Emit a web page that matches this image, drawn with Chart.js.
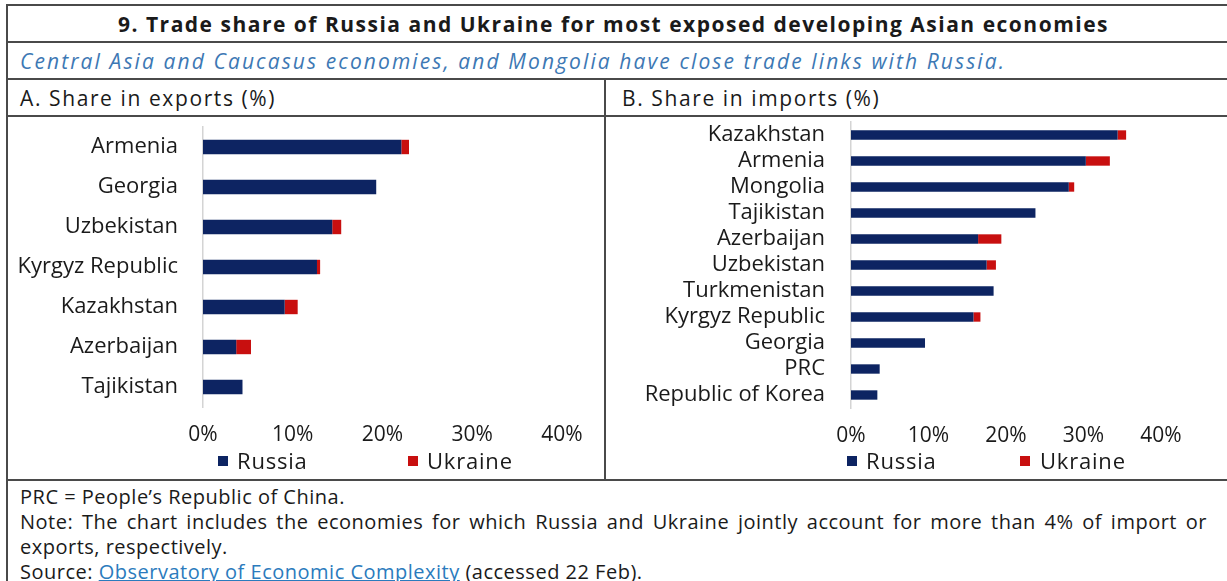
<!DOCTYPE html>
<html>
<head>
<meta charset="utf-8">
<script src="https://cdn.jsdelivr.net/npm/chart.js@4.4.1/dist/chart.umd.min.js"></script>
<style>
  html, body { margin: 0; padding: 0; background: #fff; }
  #wrap { position: relative; width: 1227px; height: 581px; overflow: hidden; background: #fff;
          font-family: "Open Sans", "Lato", sans-serif; color: #1a1a1a; }
  .hl { position: absolute; height: 2px; background: #4a4a4a; }
  .vl { position: absolute; width: 2px; background: #4a4a4a; }
  .txt { position: absolute; white-space: nowrap; }
  .cv { position: absolute; }
  .leg { position: absolute; white-space: nowrap; font-size: 22px; line-height: 26px; }
  .leg span { position: absolute; top: 0; letter-spacing: 0.8px; }
  .leg i { position: absolute; width: 10px; height: 10px; top: 9px; }
  a { color: #2b7bbd; text-decoration: underline; }
  #foot2 { width: 1187px; text-align: justify; text-align-last: justify; white-space: normal; }
</style>
</head>
<body>
<div id="wrap">
  <div class="hl" style="left:6px; width:1230px; top:4px;"></div>
  <div class="hl" style="left:6px; width:1230px; top:41px;"></div>
  <div class="hl" style="left:6px; width:1230px; top:78px;"></div>
  <div class="hl" style="left:6px; width:1230px; top:115px;"></div>
  <div class="hl" style="left:6px; width:1230px; top:479px;"></div>
  <div class="vl" style="left:6px; top:4px; height:590px;"></div>
  <div class="vl" style="left:604px; top:78px; height:402px;"></div>

  <div class="txt" id="title" style="left:0; width:1227px; text-align:center; top:9px; font-size:21px; letter-spacing:1.5px; font-weight:700; line-height:30px;"></div>
  <div class="txt" id="subtitle" style="left:20px; top:46px; font-size:21px; letter-spacing:2.1px; font-style:italic; color:#3d78b4; line-height:30px;"></div>
  <div class="txt" id="panelA" style="left:20px; top:83px; font-size:21px; letter-spacing:1.6px; line-height:30px;"></div>
  <div class="txt" id="panelB" style="left:622px; top:83px; font-size:21px; letter-spacing:1.6px; line-height:30px;"></div>

  <canvas class="cv" id="chartA" style="left:8px; top:117px; width:596px; height:333px;" width="596" height="333"></canvas>
  <canvas class="cv" id="chartB" style="left:606px; top:117px; width:619px; height:333px;" width="619" height="333"></canvas>

  <div class="leg" id="legA" style="left:0; top:447px;"></div>
  <div class="leg" id="legB" style="left:0; top:447px;"></div>

  <div class="txt" style="left:20px; top:484px; font-size:20px; letter-spacing:0.5px; line-height:25px;">
    <div id="foot1"></div>
    <div id="foot2"></div>
    <div id="foot3"></div>
    <div>Source: <a id="srcLink">Observatory of Economic Complexity</a> (accessed 22 Feb).</div>
  </div>
</div>

<script>
// ---- Data ----
const exportCategories = ['Armenia', 'Georgia', 'Uzbekistan', 'Kyrgyz Republic', 'Kazakhstan', 'Azerbaijan', 'Tajikistan'];
const exportRussia  = [22.1, 19.3, 14.4, 12.7, 9.1, 3.7, 4.4];
const exportUkraine = [0.85, 0, 1.0, 0.35, 1.45, 1.65, 0];

const importCategories = ['Kazakhstan', 'Armenia', 'Mongolia', 'Tajikistan', 'Azerbaijan', 'Uzbekistan', 'Turkmenistan', 'Kyrgyz Republic', 'Georgia', 'PRC', 'Republic of Korea'];
const importRussia  = [34.4, 30.3, 28.1, 23.8, 16.4, 17.5, 18.4, 15.8, 9.55, 3.7, 3.4];
const importUkraine = [1.1, 3.1, 0.7, 0, 3.0, 1.2, 0, 0.9, 0, 0, 0];

const seriesNames = ['Russia', 'Ukraine'];
const seriesColors = ['#0d2462', '#c80f0f'];
const xTickValues = [0, 10, 20, 30, 40];

const titleText = '9. Trade share of Russia and Ukraine for most exposed developing Asian economies';
const subtitleText = 'Central Asia and Caucasus economies, and Mongolia have close trade links with Russia.';
const panelATitle = 'A. Share in exports (%)';
const panelBTitle = 'B. Share in imports (%)';
const footLines = [
  'PRC = People\u2019s Republic of China.',
  'Note: The chart includes the economies for which Russia and Ukraine jointly account for more than 4% of import or',
  'exports, respectively.'
];

document.getElementById('title').textContent = titleText;
document.getElementById('subtitle').textContent = subtitleText;
document.getElementById('panelA').textContent = panelATitle;
document.getElementById('panelB').textContent = panelBTitle;
document.getElementById('foot1').textContent = footLines[0];
document.getElementById('foot2').textContent = footLines[1];
document.getElementById('foot3').textContent = footLines[2];

// legend: box x positions and text x positions for each series
function buildLegend(el, boxX, textX) {
  el.innerHTML = '';
  seriesNames.forEach((n, i) => {
    const b = document.createElement('i');
    b.style.background = seriesColors[i];
    b.style.left = boxX[i] + 'px';
    el.appendChild(b);
    const s = document.createElement('span');
    s.style.left = textX[i] + 'px';
    s.textContent = n;
    el.appendChild(s);
  });
}
buildLegend(document.getElementById('legA'), [218, 408], [237, 427]);
buildLegend(document.getElementById('legB'), [847, 1020], [866, 1040]);

const FONT = '"Open Sans", "Lato", sans-serif';

function makeChart(id, cats, rus, ukr, yWidth, yPad, xHeight, layoutPad) {
  return new Chart(document.getElementById(id), {
    type: 'bar',
    data: {
      labels: cats,
      datasets: [
        { label: seriesNames[0], data: rus, backgroundColor: seriesColors[0], barPercentage: 0.36, categoryPercentage: 1 },
        { label: seriesNames[1], data: ukr, backgroundColor: seriesColors[1], barPercentage: 0.36, categoryPercentage: 1 }
      ]
    },
    options: {
      indexAxis: 'y',
      responsive: false,
      animation: false,
      devicePixelRatio: 1,
      layout: { padding: layoutPad },
      plugins: { legend: { display: false }, tooltip: { enabled: false } },
      scales: {
        x: {
          stacked: true,
          min: xTickValues[0],
          max: xTickValues[xTickValues.length - 1],
          afterBuildTicks: (s) => { s.ticks = xTickValues.map(v => ({ value: v })); },
          grid: { display: false, drawTicks: false },
          border: { display: false },
          ticks: { padding: 15, color: '#1a1a1a', font: { family: FONT, size: 21 }, callback: (v) => v + '%' },
          afterFit: (s) => { s.height = xHeight; s.paddingLeft = 0; s.paddingRight = 0; }
        },
        y: {
          stacked: true,
          grid: { display: false, drawTicks: false },
          border: { display: true, color: '#d4d4d4', width: 1.5 },
          ticks: { autoSkip: false, padding: yPad, color: '#1a1a1a', font: { family: FONT, size: 22 } },
          afterFit: (s) => { s.width = yWidth; s.paddingTop = 0; s.paddingBottom = 0; }
        }
      }
    }
  });
}

makeChart('chartA', exportCategories, exportRussia, exportUkraine, 195, 25, 43, { top: 10, right: 42, left: 0, bottom: 0 });
makeChart('chartB', importCategories, importRussia, importUkraine, 245, 26, 42, { top: 5, right: 64, left: 0, bottom: 0 });
</script>
</body>
</html>
